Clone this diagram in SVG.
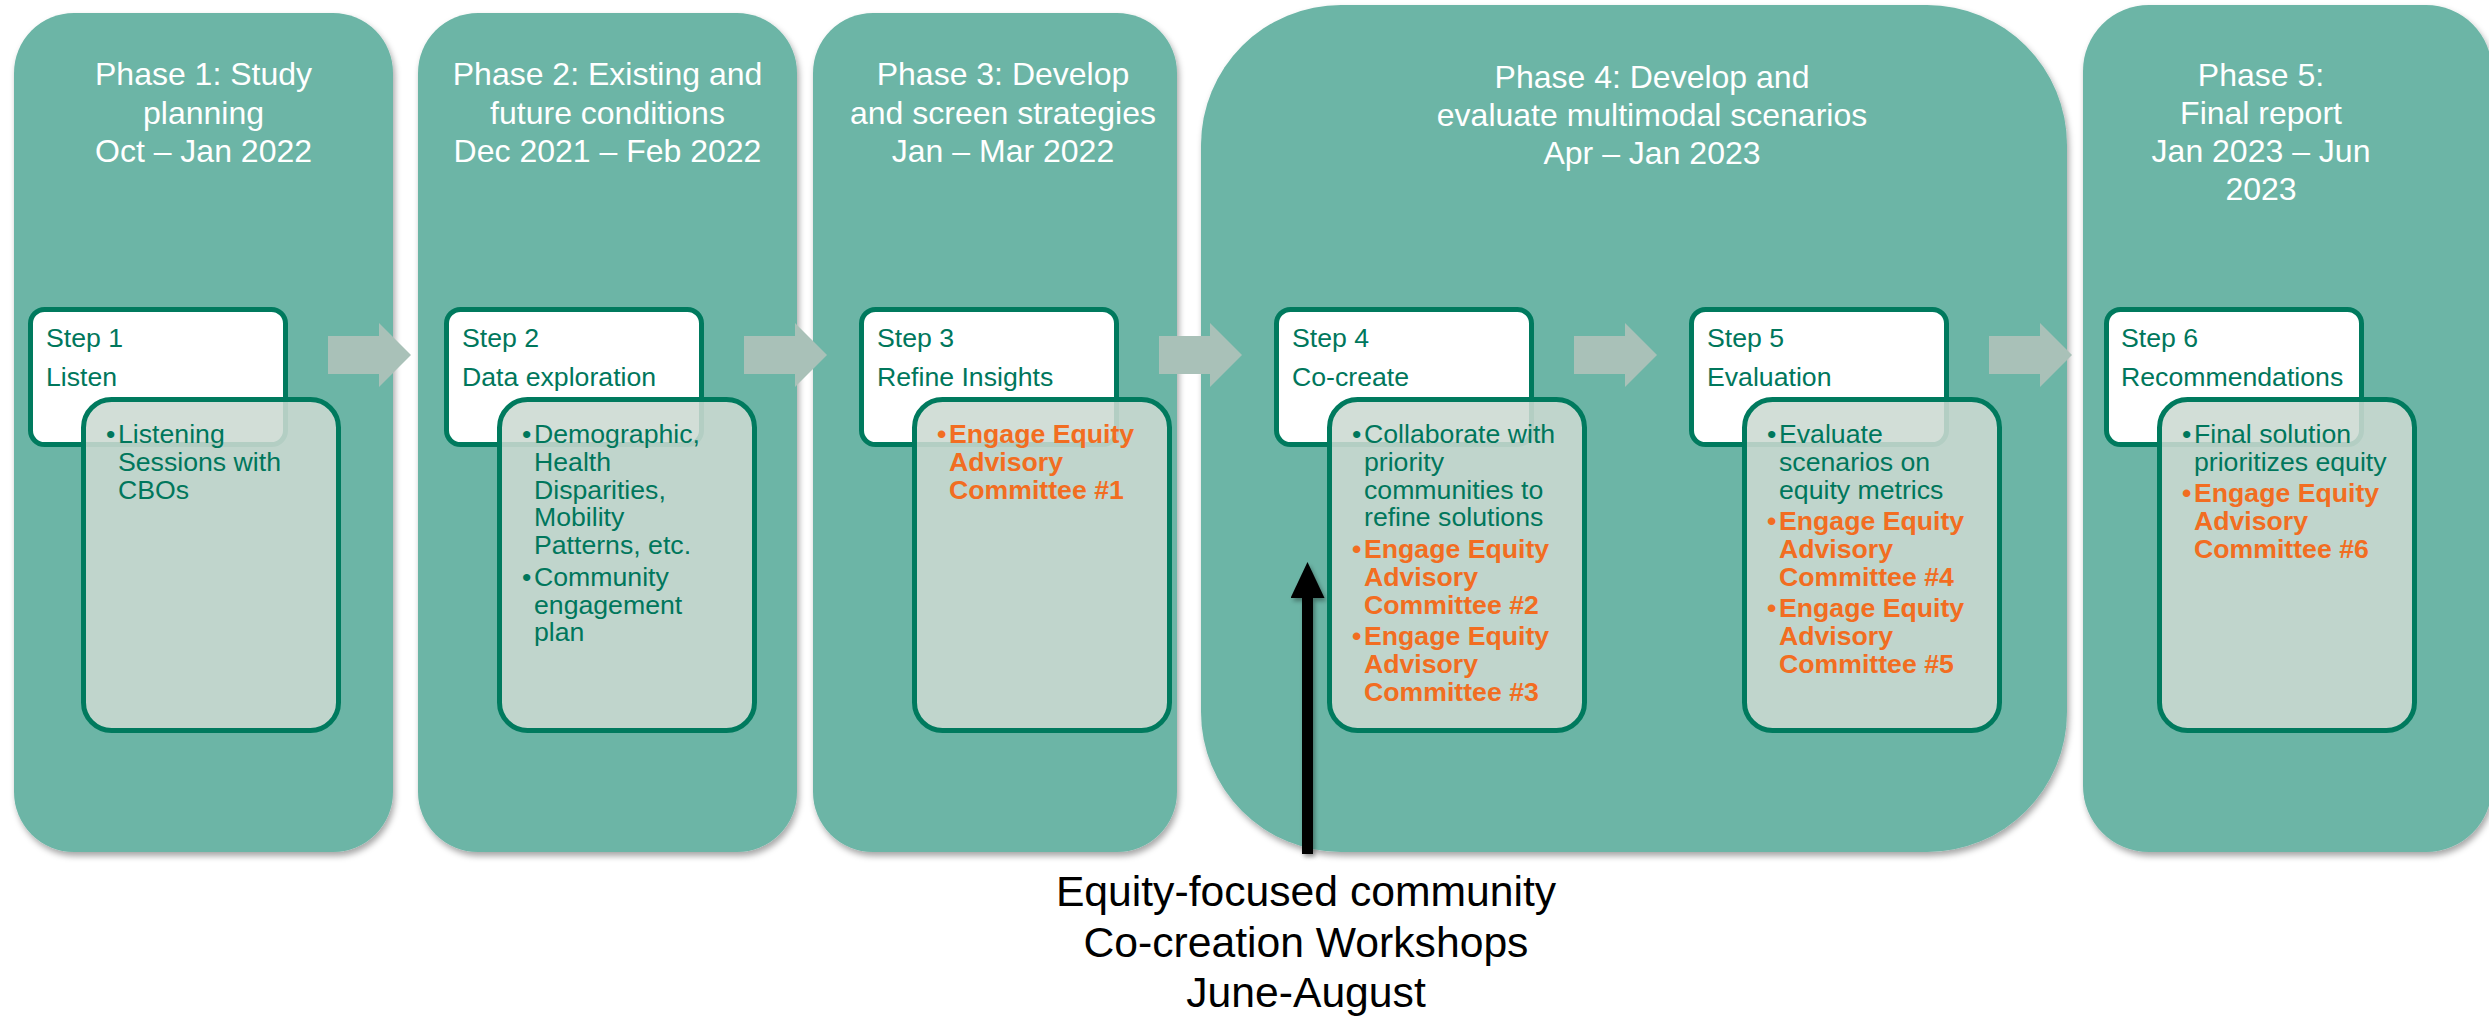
<svg xmlns="http://www.w3.org/2000/svg" width="2489" height="1017" viewBox="0 0 2489 1017">
<style>
.phase{fill:#6CB5A6;}
.ptitle{font-family:"Liberation Sans",Arial,sans-serif;font-size:32px;fill:#FFFFFF;text-anchor:middle;}
.step{fill:#FFFFFF;stroke:#007A5E;stroke-width:5;}
.content{fill:#CCD9D2;fill-opacity:0.88;stroke:#007A5E;stroke-width:5;}
.stxt{font-family:"Liberation Sans",Arial,sans-serif;font-size:26.67px;fill:#00775C;}
.btxt{font-family:"Liberation Sans",Arial,sans-serif;font-size:26.67px;fill:#00775C;}
.otxt{font-family:"Liberation Sans",Arial,sans-serif;font-size:26.67px;fill:#F26D21;font-weight:bold;}
.flow{fill:#A9C1B8;}
.caption{font-family:"Liberation Sans",Arial,sans-serif;font-size:42.67px;fill:#000000;text-anchor:middle;}
</style>
<defs>
<filter id="shadow" x="-5%" y="-5%" width="115%" height="115%">
<feDropShadow dx="2" dy="4" stdDeviation="3" flood-color="#000000" flood-opacity="0.35"/>
</filter>
<filter id="shadowU" filterUnits="userSpaceOnUse" x="0" y="0" width="2489" height="1017">
<feDropShadow dx="2" dy="3" stdDeviation="2" flood-color="#000000" flood-opacity="0.35"/>
</filter>
<marker id="blackhead" markerUnits="userSpaceOnUse" viewBox="0 0 36 34" markerWidth="36" markerHeight="34" refX="1" refY="17" orient="auto">
<path d="M0,0 L36,17 L0,34 Z" fill="#000000"/>
</marker>
</defs>

<g id="phases" filter="url(#shadow)">
<g id="phase1"><rect class="phase" x="14" y="13" width="379" height="839" rx="60" ry="60"/></g>
<g id="phase2"><rect class="phase" x="418" y="13" width="379" height="839" rx="60" ry="60"/></g>
<g id="phase3"><rect class="phase" x="813" y="13" width="364" height="839" rx="60" ry="60"/></g>
<g id="phase4"><rect class="phase" x="1201" y="5" width="866" height="847" rx="140" ry="140"/></g>
<g id="phase5"><rect class="phase" x="2083" y="5" width="409" height="847" rx="66" ry="66"/></g>
</g>

<g id="phase-titles">
<text class="ptitle"><tspan x="203.5" y="85">Phase 1: Study</tspan><tspan x="203.5" y="123.5">planning</tspan><tspan x="203.5" y="162">Oct – Jan 2022</tspan></text>
<text class="ptitle"><tspan x="607.5" y="85">Phase 2: Existing and</tspan><tspan x="607.5" y="123.5">future conditions</tspan><tspan x="607.5" y="162">Dec 2021 – Feb 2022</tspan></text>
<text class="ptitle"><tspan x="1003" y="85">Phase 3: Develop</tspan><tspan x="1003" y="123.5">and screen strategies</tspan><tspan x="1003" y="162">Jan – Mar 2022</tspan></text>
<text class="ptitle"><tspan x="1652" y="88">Phase 4: Develop and</tspan><tspan x="1652" y="126">evaluate multimodal scenarios</tspan><tspan x="1652" y="164">Apr – Jan 2023</tspan></text>
<text class="ptitle"><tspan x="2261" y="86">Phase 5:</tspan><tspan x="2261" y="124">Final report</tspan><tspan x="2261" y="162">Jan 2023 – Jun</tspan><tspan x="2261" y="200">2023</tspan></text>
</g>

<g id="connectors">
<polygon class="flow" points="328,336 379,336 379,323 411,355 379,387 379,374 328,374"/>
<polygon class="flow" points="744,336 795,336 795,323 827,355 795,387 795,374 744,374"/>
<polygon class="flow" points="1159,336 1210,336 1210,323 1242,355 1210,387 1210,374 1159,374"/>
<polygon class="flow" points="1574,336 1625,336 1625,323 1657,355 1625,387 1625,374 1574,374"/>
<polygon class="flow" points="1989,336 2040,336 2040,323 2072,355 2040,387 2040,374 1989,374"/>
<g filter="url(#shadowU)">
<path d="M1307.5,854 L1307.5,597" stroke="#000000" stroke-width="11" fill="none" marker-end="url(#blackhead)"/>
</g>
</g>

<g id="step1">
<rect class="step" x="30.5" y="309.5" width="255" height="135" rx="14"/>
<text class="stxt"><tspan x="46" y="347">Step 1</tspan><tspan x="46" y="386">Listen</tspan></text>
<rect class="content" x="83.5" y="399.5" width="255" height="331" rx="28"/>
<text class="btxt"><tspan x="106" y="443">•</tspan><tspan x="118" y="443">Listening</tspan><tspan x="118" y="470.8">Sessions with</tspan><tspan x="118" y="498.6">CBOs</tspan></text>
</g>

<g id="step2">
<rect class="step" x="446.5" y="309.5" width="255" height="135" rx="14"/>
<text class="stxt"><tspan x="462" y="347">Step 2</tspan><tspan x="462" y="386">Data exploration</tspan></text>
<rect class="content" x="499.5" y="399.5" width="255" height="331" rx="28"/>
<text class="btxt"><tspan x="522" y="443">•</tspan><tspan x="534" y="443">Demographic,</tspan><tspan x="534" y="470.8">Health</tspan><tspan x="534" y="498.6">Disparities,</tspan><tspan x="534" y="526.4">Mobility</tspan><tspan x="534" y="554.2">Patterns, etc.</tspan><tspan x="522" y="585.7">•</tspan><tspan x="534" y="585.7">Community</tspan><tspan x="534" y="613.5">engagement</tspan><tspan x="534" y="641.3">plan</tspan></text>
</g>

<g id="step3">
<rect class="step" x="861.5" y="309.5" width="255" height="135" rx="14"/>
<text class="stxt"><tspan x="877" y="347">Step 3</tspan><tspan x="877" y="386">Refine Insights</tspan></text>
<rect class="content" x="914.5" y="399.5" width="255" height="331" rx="28"/>
<text class="otxt"><tspan x="937" y="443">•</tspan><tspan x="949" y="443">Engage Equity</tspan><tspan x="949" y="470.8">Advisory</tspan><tspan x="949" y="498.6">Committee #1</tspan></text>
</g>

<g id="step4">
<rect class="step" x="1276.5" y="309.5" width="255" height="135" rx="14"/>
<text class="stxt"><tspan x="1292" y="347">Step 4</tspan><tspan x="1292" y="386">Co-create</tspan></text>
<rect class="content" x="1329.5" y="399.5" width="255" height="331" rx="28"/>
<text class="btxt"><tspan x="1352" y="443">•</tspan><tspan x="1364" y="443">Collaborate with</tspan><tspan x="1364" y="470.8">priority</tspan><tspan x="1364" y="498.6">communities to</tspan><tspan x="1364" y="526.4">refine solutions</tspan></text>
<text class="otxt"><tspan x="1352" y="557.9">•</tspan><tspan x="1364" y="557.9">Engage Equity</tspan><tspan x="1364" y="585.7">Advisory</tspan><tspan x="1364" y="613.5">Committee #2</tspan><tspan x="1352" y="645">•</tspan><tspan x="1364" y="645">Engage Equity</tspan><tspan x="1364" y="672.8">Advisory</tspan><tspan x="1364" y="700.6">Committee #3</tspan></text>
</g>

<g id="step5">
<rect class="step" x="1691.5" y="309.5" width="255" height="135" rx="14"/>
<text class="stxt"><tspan x="1707" y="347">Step 5</tspan><tspan x="1707" y="386">Evaluation</tspan></text>
<rect class="content" x="1744.5" y="399.5" width="255" height="331" rx="28"/>
<text class="btxt"><tspan x="1767" y="443">•</tspan><tspan x="1779" y="443">Evaluate</tspan><tspan x="1779" y="470.8">scenarios on</tspan><tspan x="1779" y="498.6">equity metrics</tspan></text>
<text class="otxt"><tspan x="1767" y="530.1">•</tspan><tspan x="1779" y="530.1">Engage Equity</tspan><tspan x="1779" y="557.9">Advisory</tspan><tspan x="1779" y="585.7">Committee #4</tspan><tspan x="1767" y="617.2">•</tspan><tspan x="1779" y="617.2">Engage Equity</tspan><tspan x="1779" y="645">Advisory</tspan><tspan x="1779" y="672.8">Committee #5</tspan></text>
</g>

<g id="step6">
<rect class="step" x="2106.5" y="309.5" width="255" height="135" rx="14"/>
<text class="stxt"><tspan x="2121" y="347">Step 6</tspan><tspan x="2121" y="386">Recommendations</tspan></text>
<rect class="content" x="2159.5" y="399.5" width="255" height="331" rx="28"/>
<text class="btxt"><tspan x="2182" y="443">•</tspan><tspan x="2194" y="443">Final solution</tspan><tspan x="2194" y="470.8">prioritizes equity</tspan></text>
<text class="otxt"><tspan x="2182" y="502.3">•</tspan><tspan x="2194" y="502.3">Engage Equity</tspan><tspan x="2194" y="530.1">Advisory</tspan><tspan x="2194" y="557.9">Committee #6</tspan></text>
</g>

<g id="caption">
<text class="caption"><tspan x="1306" y="906">Equity-focused community</tspan><tspan x="1306" y="957">Co-creation Workshops</tspan><tspan x="1306" y="1007">June-August</tspan></text>
</g>
</svg>
